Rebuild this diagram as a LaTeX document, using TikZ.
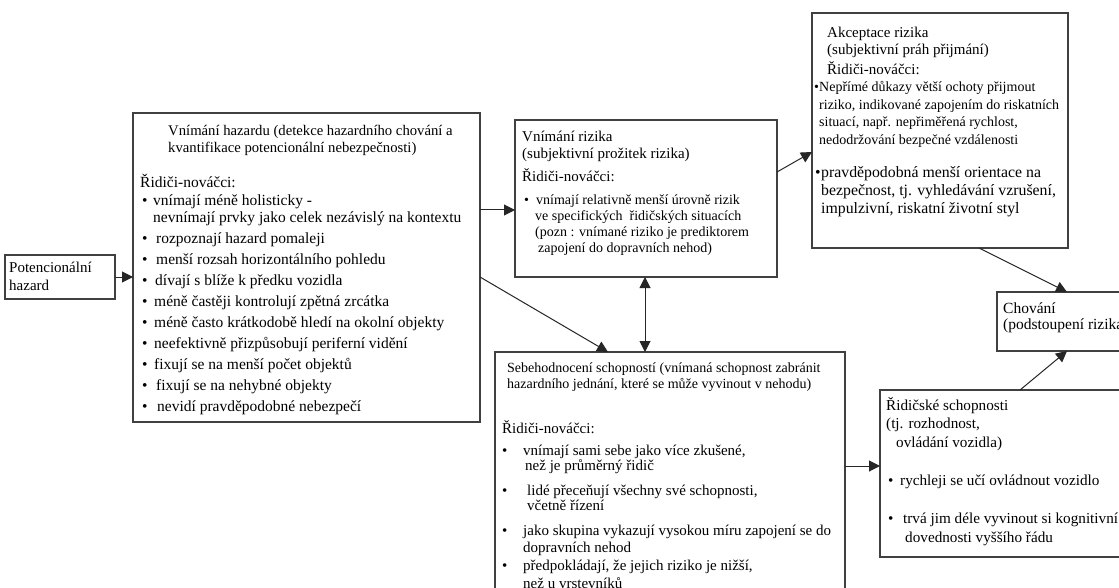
\documentclass[tikz,border=0pt]{standalone}
\usepackage{fontspec}
\setmainfont{Liberation Serif}
\usetikzlibrary{arrows.meta, calc, positioning}

\tikzset{
  box/.style={draw=black!75, line width=1.2pt, inner sep=0pt, outer sep=0pt, anchor=north west},
  txt/.style={inner sep=0pt, anchor=base west, align=left},
  arr/.style={draw=black!85, line width=1pt, -{Triangle[length=11pt,width=11pt]}},
}
\newcommand{\bul}[1][11pt]{\makebox[#1][l]{\textbullet}}
\newcommand{\ind}[1][11pt]{\hspace*{#1}}

\begin{document}
\begin{tikzpicture}[x=1pt,y=-1pt]
    \fill[white] (0,0) rectangle (1119,588);
    \useasboundingbox (0,0) rectangle (1119,588);

    % ramecky
    \node[box, minimum width=110pt, minimum height=44pt] (pot) at (5,255) {};
    \node[box, minimum width=347pt, minimum height=309pt] (haz) at (133,113) {};
    \node[box, minimum width=262pt, minimum height=157pt] (risk) at (515,120) {};
    \node[box, minimum width=256pt, minimum height=235pt] (acc) at (812,13) {};
    \node[box, minimum width=140pt, minimum height=59pt] (chov) at (997,292) {};
    \node[box, minimum width=250pt, minimum height=167pt] (skill) at (880,390) {};
    \node[box, minimum width=350pt, minimum height=260pt] (self) at (495,352) {};

    % Potencionalni hazard (base = posledni radek)
    \node[txt, font=\fontsize{15}{18}\selectfont] (potT) at (9,290) {Potencionální\\hazard};

    % Vnimani hazardu
    \node[txt, font=\fontsize{14.7}{17}\selectfont] (hazT) at (168,153)
        {Vnímání hazardu (detekce hazardního chování a\\kvantifikace potencionální nebezpečnosti)};
    \node[txt, font=\fontsize{15.5}{21}\selectfont] (hazB) at (140,411)
        {Řidiči-nováčci:\\[-3pt]
         \ind[2pt]\bul vnímají méně holisticky -\\[-4pt]
         \ind[13pt]nevnímají prvky jako celek nezávislý na kontextu\\
         \ind[2pt]\bul[14pt]rozpoznají hazard pomaleji\\
         \ind[2pt]\bul[14pt]menší rozsah horizontálního pohledu\\
         \ind[2pt]\bul[13pt]dívají s blíže k předku vozidla\\
         \ind[2pt]\bul[12pt]méně častěji kontrolují zpětná zrcátka\\
         \ind[2pt]\bul[12pt]méně často krátkodobě hledí na okolní objekty\\
         \ind[2pt]\bul[12pt]neefektivně přizpůsobují periferní vidění\\
         \ind[2pt]\bul[12pt]fixují se na menší počet objektů\\
         \ind[2pt]\bul[14pt]fixují se na nehybné objekty\\
         \ind[2pt]\bul[15pt]nevidí pravděpodobné nebezpečí};

    % Vnimani rizika
    \node[txt, font=\fontsize{15}{17}\selectfont] (riskT) at (522,182)
        {Vnímání rizika\\(subjektivní prožitek rizika)\\[6pt]Řidiči-nováčci:};
    \node[txt, font=\fontsize{14}{16}\selectfont] (riskB) at (524,252)
        {\bul[12pt]vnímají relativně menší úrovně rizik\\
         \ind[11pt]ve specifických\ \ řidičských situacích\\
         \ind[11pt](pozn : vnímané riziko je prediktorem\\
         \ind[14pt]zapojení do dopravních nehod)};

    % Akceptace rizika
    \node[txt, font=\fontsize{15}{17}\selectfont] (accT) at (827,75)
        {Akceptace rizika\\(subjektivní práh přijmání)\\[3pt]Řidiči-nováčci:};
    \node[txt, font=\fontsize{14}{17.5}\selectfont] (accB) at (814,144.5)
        {\bul[5pt]Nepřímé důkazy větší ochoty přijmout\\
         \ind[5pt]riziko, indikované zapojením do riskatních\\
         \ind[5pt]situací, např. nepřiměřená rychlost,\\
         \ind[5pt]nedodržování bezpečné vzdálenosti};
    \node[txt, font=\fontsize{15.8}{18}\selectfont] (accC) at (815,214)
        {\bul[6pt]pravděpodobná menší orientace na\\
         \ind[6pt]bezpečnost, tj. vyhledávání vzrušení,\\
         \ind[6pt]impulzivní, riskatní životní styl};

    % Chovani
    \node[txt, font=\fontsize{15.5}{16}\selectfont] (chovT) at (1003,329) {Chování\\(podstoupení rizika)};

    % Ridicske schopnosti
    \node[txt, font=\fontsize{15.2}{18.5}\selectfont] (skillT) at (886,447)
        {Řidičské schopnosti\\(tj. rozhodnost,\\\ind[10pt]ovládání vozidla)};
    \node[txt, font=\fontsize{15.2}{19}\selectfont] (skillB) at (888,542)
        {\bul[12pt]rychleji se učí ovládnout vozidlo\\[19pt]
         \bul[15pt]trvá jim déle vyvinout si kognitivní\\
         \ind[17pt]dovednosti vyššího řádu};

    % Sebehodnoceni
    \node[txt, font=\fontsize{14}{16}\selectfont] (selfT) at (507,388)
        {Sebehodnocení schopností (vnímaná schopnost zabránit\\hazardního jednání, které se může vyvinout v nehodu)};
    \node[txt, font=\fontsize{15}{16}\selectfont] (selfB) at (502,588)
        {Řidiči-nováčci:\\[6pt]
         \bul[21pt]vnímají sami sebe jako více zkušené,\\[-1pt]
         \ind[23pt]než je průměrný řidič\\[9pt]
         \bul[25pt]lidé přeceňují všechny své schopnosti,\\[-1pt]
         \ind[25pt]včetně řízení\\[9pt]
         \bul[21pt]jako skupina vykazují vysokou míru zapojení se do\\[1pt]
         \ind[21pt]dopravních nehod\\[2pt]
         \bul[21pt]předpokládají, že jejich riziko je nižší,\\[2pt]
         \ind[21pt]než u vrstevníků};

    % sipky
    \draw[arr] (pot.east) -- (pot.east -| haz.west);
    \draw[arr] ([yshift=-97pt]haz.north east) coordinate (h1) -- (h1 -| risk.west);
    \draw[arr] ([yshift=-164pt]haz.north east) -- ([xshift=113pt]self.north west);
    \draw[arr, {Triangle[length=11pt,width=11pt]}-{Triangle[length=11pt,width=11pt]}]
        ([xshift=130pt]risk.south west) coordinate (r1) -- (r1 |- self.north);
    \draw[arr] ([yshift=-52pt]risk.north east) -- ([yshift=-139pt]acc.north west);
    \draw[arr] ([xshift=167pt]acc.south west) -- ([xshift=70pt]chov.north west);
    \draw[arr] ([xshift=140pt]skill.north west) -- ([xshift=70pt]chov.south west);
    \draw[arr] ([yshift=-114pt]self.north east) coordinate (s1) -- (s1 -| skill.west);
\end{tikzpicture}
\end{document}
